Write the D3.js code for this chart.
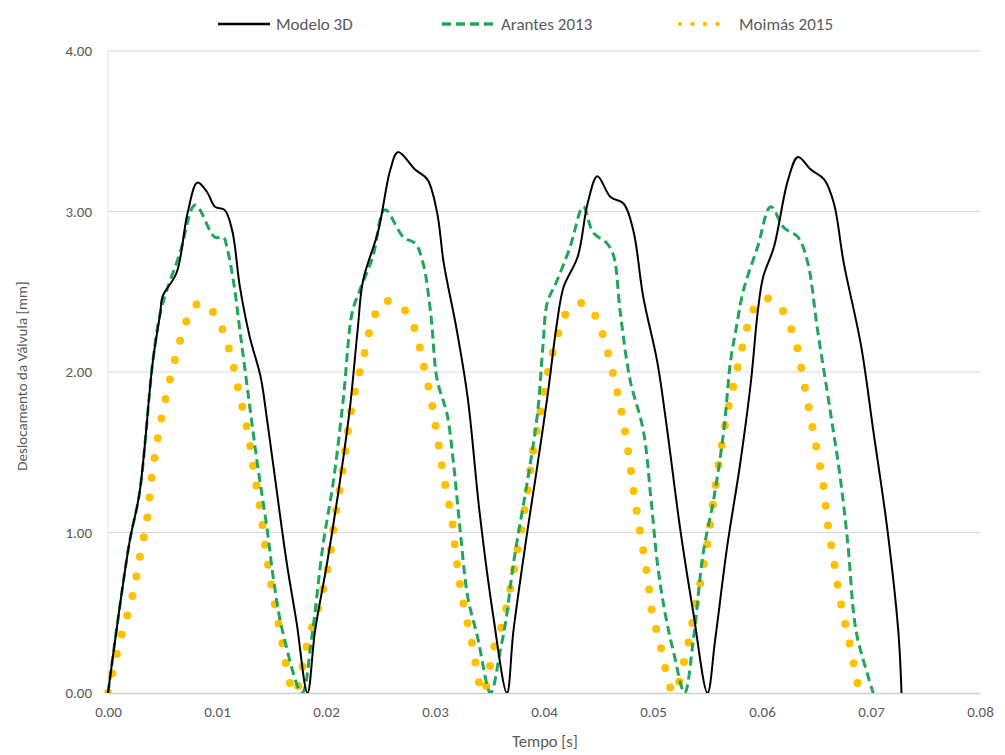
<!DOCTYPE html>
<html>
<head>
<meta charset="utf-8">
<script src="https://cdn.jsdelivr.net/npm/d3@7"></script>
<style>
    body { margin: 0; background: #fff; }
    svg text { font-family: Carlito, Lato, sans-serif; fill: #595959; }
</style>
</head>
<body>
<div id="chart"></div>
<script>
// series values, [tempo (s), deslocamento (mm)]
const modelo3D = [
    [0,0],[0.0010,0.50],[0.0020,0.95],[0.0029,1.25],[0.0041,2.06],[0.0048,2.37],[0.0050,2.47],[0.0063,2.62],[0.0073,2.99],[0.0082,3.18],
    [0.0091,3.12],[0.0098,3.03],[0.0107,3.01],[0.0114,2.88],[0.0121,2.53],[0.0130,2.22],[0.0140,1.97],[0.0146,1.70],[0.0155,1.25],[0.0164,0.81],[0.0173,0.44],[0.0183,0],
    [0.0190,0.39],[0.0201,0.81],[0.0213,1.33],[0.0222,1.78],[0.0229,2.26],[0.0234,2.57],[0.0248,2.88],[0.0259,3.26],[0.0266,3.37],
    [0.0282,3.26],[0.0293,3.20],[0.0302,2.99],[0.0308,2.68],[0.0320,2.26],[0.0330,1.84],[0.0341,1.12],[0.0353,0.50],[0.0366,0],
    [0.0372,0.39],[0.0385,1.02],[0.0392,1.33],[0.0403,1.84],[0.0412,2.31],[0.0418,2.53],[0.0431,2.72],[0.0440,3.05],[0.0449,3.22],
    [0.0461,3.09],[0.0473,3.05],[0.0482,2.88],[0.0491,2.47],[0.0504,2.06],[0.0513,1.64],[0.0525,1.02],[0.0537,0.50],[0.0550,0],
    [0.0557,0.33],[0.0568,0.91],[0.0580,1.43],[0.0590,1.95],[0.0596,2.37],[0.0601,2.59],[0.0611,2.78],[0.0624,3.20],[0.0633,3.34],
    [0.0645,3.26],[0.0657,3.20],[0.0666,3.05],[0.0675,2.68],[0.0691,2.16],[0.0702,1.64],[0.0715,1.02],[0.0725,0.39],[0.0728,0]
];
const arantes2013 = [
    [0,0],[0.0010,0.50],[0.0020,0.95],[0.0029,1.25],[0.0041,2.06],[0.0048,2.37],[0.0054,2.51],[0.0066,2.74],[0.0080,3.04],
    [0.0098,2.84],[0.0106,2.84],[0.0109,2.78],[0.0115,2.57],[0.0121,2.26],[0.0129,1.84],[0.0137,1.43],[0.0146,1.02],[0.0152,0.70],[0.0160,0.39],[0.0178,0],
    [0.0187,0.35],[0.0197,0.91],[0.0207,1.33],[0.0216,1.84],[0.0224,2.37],[0.0231,2.51],[0.0243,2.72],[0.0254,3.01],
    [0.0271,2.84],[0.0282,2.80],[0.0289,2.68],[0.0296,2.37],[0.0302,1.95],[0.0311,1.74],[0.0317,1.43],[0.0323,1.02],[0.0330,0.60],[0.0339,0.35],[0.0351,0],
    [0.0360,0.27],[0.0365,0.45],[0.0372,0.81],[0.0385,1.33],[0.0394,1.74],[0.0399,2.16],[0.0403,2.43],[0.0412,2.57],[0.0424,2.78],[0.0436,3.03],
    [0.0445,2.87],[0.0458,2.80],[0.0464,2.72],[0.0470,2.37],[0.0479,1.95],[0.0491,1.64],[0.0498,1.22],[0.0504,0.81],[0.0511,0.50],[0.0519,0.25],[0.0529,0],
    [0.0537,0.33],[0.0546,0.87],[0.0556,1.22],[0.0565,1.64],[0.0571,2.06],[0.0576,2.26],[0.0583,2.51],[0.0596,2.78],[0.0608,3.03],
    [0.0620,2.90],[0.0633,2.84],[0.0642,2.68],[0.0651,2.26],[0.0663,1.74],[0.0672,1.33],[0.0679,0.91],[0.0684,0.50],[0.0688,0.33],[0.0702,0]
];
const moimas2015 = [
    [0,0],[0.0012,0.35],[0.0022,0.59],[0.0029,0.84],[0.0036,1.09],[0.0040,1.34],[0.0046,1.60],[0.0053,1.84],[0.0062,2.09],[0.0073,2.33],[0.0084,2.43],
    [0.0098,2.36],[0.0112,2.12],[0.0120,1.88],[0.0128,1.63],[0.0134,1.38],[0.0140,1.13],[0.0145,0.88],[0.0151,0.63],[0.0158,0.38],[0.0171,0],
    [0.0184,0.34],[0.0195,0.58],[0.0203,0.83],[0.0208,1.08],[0.0214,1.33],[0.0219,1.58],[0.0225,1.83],[0.0234,2.08],[0.0243,2.32],[0.0253,2.44],
    [0.0270,2.40],[0.0279,2.31],[0.0285,2.18],[0.0289,2.06],[0.0297,1.81],[0.0303,1.56],[0.0309,1.31],[0.0316,1.06],[0.0320,0.81],[0.0326,0.56],[0.0334,0.31],[0.0344,0],
    [0.0354,0.28],[0.0360,0.39],[0.0365,0.52],[0.0372,0.75],[0.0379,1.02],[0.0385,1.26],[0.0390,1.51],[0.0397,1.76],[0.0404,2.01],[0.0414,2.26],[0.0421,2.37],[0.0436,2.43],
    [0.0448,2.34],[0.0455,2.21],[0.0464,1.97],[0.0472,1.72],[0.0478,1.47],[0.0483,1.22],[0.0489,0.97],[0.0495,0.72],[0.0500,0.47],[0.0505,0.35],[0.0519,0],
    [0.0530,0.24],[0.0537,0.47],[0.0545,0.74],[0.0551,0.98],[0.0556,1.23],[0.0562,1.50],[0.0568,1.74],[0.0576,1.98],[0.0585,2.24],[0.0590,2.36],[0.0601,2.46],
    [0.0615,2.42],[0.0624,2.31],[0.0631,2.19],[0.0635,2.06],[0.0642,1.81],[0.0649,1.56],[0.0656,1.31],[0.0660,1.07],[0.0666,0.82],[0.0672,0.57],[0.0680,0.32],[0.0688,0.05]
];

const seriesNames = ['Modelo 3D', 'Arantes 2013', 'Moimás 2015'];
const xTicks = [0, 0.01, 0.02, 0.03, 0.04, 0.05, 0.06, 0.07, 0.08];
const yTicks = [0, 1, 2, 3, 4];
const xTitle = 'Tempo [s]';
const yTitle = 'Deslocamento da Válvula [mm]';

const width = 1005, height = 755;
const margin = {top: 51, right: 25, bottom: 62, left: 108};

// line styles per series
const styles = [
    {color: '#000000', width: 2,   dash: null,   cap: 'butt',  legendDash: null,     legendWidth: 2.5},
    {color: '#1fa65a', width: 3,   dash: '9,5',  cap: 'butt',  legendDash: '9,5',    legendWidth: 3.5},
    {color: '#ffc000', width: 8,   dash: '0,20', cap: 'round', legendDash: '0,12.5', legendWidth: 4.5}
];

const svg = d3.select('#chart').append('svg')
    .attr('width', width)
    .attr('height', height);

const x = d3.scaleLinear([0, 0.08], [margin.left, width - margin.right]);
const y = d3.scaleLinear([0, 4], [height - margin.bottom, margin.top]);

// gridlines
svg.append('g').classed('grid', true)
    .selectAll('line')
    .data(yTicks.filter(d => d > 0))
    .join('line')
    .attr('x1', x(0)).attr('x2', x(0.08))
    .attr('y1', d => y(d)).attr('y2', d => y(d))
    .attr('stroke', '#d9d9d9').attr('stroke-width', 1);

// left border line
svg.append('line')
    .attr('x1', x(0)).attr('x2', x(0))
    .attr('y1', y(4)).attr('y2', y(0))
    .attr('stroke', '#e3e3e3').attr('stroke-width', 1);

// axes
const yAxis = svg.append('g')
    .attr('transform', `translate(${x(0)},0)`)
    .call(d3.axisLeft(y).tickValues(yTicks).tickFormat(d3.format('.2f')).tickSize(0).tickPadding(16));
yAxis.select('.domain').remove();
yAxis.selectAll('text').attr('font-size', 15).attr('fill', '#595959');

const xAxis = svg.append('g')
    .attr('transform', `translate(0,${y(0)})`)
    .call(d3.axisBottom(x).tickValues(xTicks).tickFormat(d3.format('.2f')).tickSize(0).tickPadding(13));
xAxis.select('.domain').attr('stroke', '#cfcfcf').attr('stroke-width', 1.3);
xAxis.selectAll('text').attr('font-size', 15).attr('fill', '#595959');

// axis titles
svg.append('text')
    .attr('x', (x(0) + x(0.08)) / 2 + 1)
    .attr('y', 747)
    .attr('text-anchor', 'middle')
    .attr('font-size', 16.5)
    .text(xTitle);

svg.append('text')
    .attr('transform', `translate(27,${(y(0) + y(4)) / 2 + 4}) rotate(-90)`)
    .attr('text-anchor', 'middle')
    .attr('font-size', 15)
    .text(yTitle);

// clip the lines to the plot area
svg.append('clipPath').attr('id', 'plot-clip')
    .append('rect')
    .attr('x', x(0) - 5).attr('y', y(4))
    .attr('width', x(0.08) - x(0) + 10).attr('height', y(0) - y(4));

const lineGen = d3.line()
    .x(d => x(d[0]))
    .y(d => y(d[1]))
    .curve(d3.curveCatmullRom.alpha(0.5));

const series = [modelo3D, arantes2013, moimas2015];
const lines = svg.append('g').attr('clip-path', 'url(#plot-clip)');

// draw in reverse so the black line sits on top, as in the original
[2, 1, 0].forEach(i => {
    lines.append('path')
        .datum(series[i])
        .attr('d', lineGen)
        .attr('fill', 'none')
        .attr('stroke', styles[i].color)
        .attr('stroke-width', styles[i].width)
        .attr('stroke-linecap', styles[i].cap)
        .attr('stroke-linejoin', 'round')
        .attr('stroke-dasharray', styles[i].dash);
});

// legend
const legendPos = [218, 442, 680];
const legendLen = [52, 53, 44];
const legend = svg.append('g').classed('legend', true);
seriesNames.forEach((name, i) => {
    const g = legend.append('g').attr('transform', `translate(${legendPos[i]},24)`);
    g.append('line')
        .attr('x1', 0).attr('x2', legendLen[i])
        .attr('stroke', styles[i].color)
        .attr('stroke-width', styles[i].legendWidth)
        .attr('stroke-linecap', styles[i].cap)
        .attr('stroke-dasharray', styles[i].legendDash);
    g.append('text')
        .attr('x', i === 2 ? legendLen[i] + 15 : legendLen[i] + 6)
        .attr('dy', '0.35em')
        .attr('font-size', 17)
        .text(name);
});
</script>
</body>
</html>
